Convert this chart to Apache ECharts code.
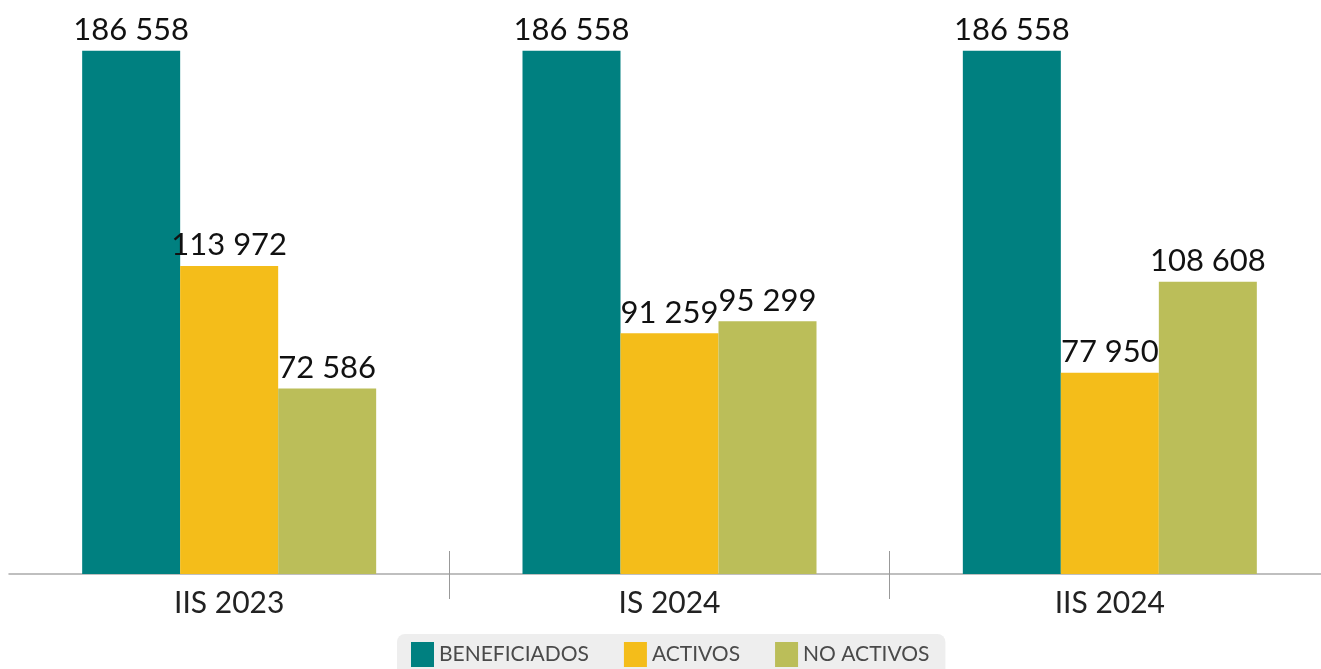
<!DOCTYPE html>
<html>
<head>
<meta charset="utf-8">
<script src="https://cdn.jsdelivr.net/npm/echarts@6/dist/echarts.min.js"></script>
<style>
    html, body { margin: 0; padding: 0; background: #fff; overflow: hidden; }
    #chart { width: 1330px; height: 669px; }
</style>
</head>
<body>
<div id="chart"></div>
<script>
const periods = ['IIS 2023', 'IS 2024', 'IIS 2024'];
const beneficiados = [186558, 186558, 186558];
const activos = [113972, 91259, 77950];
const noActivos = [72586, 95299, 108608];

const seriesNames = ['BENEFICIADOS', 'ACTIVOS', 'NO ACTIVOS'];
const seriesColors = ['#008080', '#F4BD1A', '#BBBE59'];

// número con espacio como separador de miles
function fmt(v) {
    return String(v).replace(/\B(?=(\d{3})+(?!\d))/g, ' ');
}

function makeSeries(name, data, color) {
    return {
        name: name,
        type: 'bar',
        data: data,
        barWidth: 98,
        barGap: 0,
        itemStyle: { color: color },
        label: {
            show: true,
            position: 'top',
            distance: 5,
            color: '#111',
            fontFamily: 'Lato',
            fontSize: 31,
            formatter: function (p) { return fmt(p.value); }
        }
    };
}

const myChart = echarts.init(document.getElementById('chart'));

myChart.setOption({
    animation: false,
    grid: { left: 9, right: 0, top: 11, bottom: 95, containLabel: false },
    legend: {
        bottom: -10,
        left: 397,
        itemWidth: 23,
        itemHeight: 25,
        itemGap: 35,
        icon: 'rect',
        backgroundColor: '#eeeeee',
        borderRadius: 8,
        padding: [8, 16, 12, 14],
        textStyle: { fontFamily: 'Lato', fontSize: 21, color: '#4a4a4a' },
        data: seriesNames
    },
    xAxis: [
        {
            type: 'category',
            data: periods,
            axisLine: { lineStyle: { color: '#aaaaaa', width: 1.5 } },
            axisTick: {
                show: true,
                inside: true,
                length: 23,
                interval: function (index) { return index > 0; },
                lineStyle: { color: '#999999', width: 1 }
            },
            axisLabel: {
                color: '#222',
                fontFamily: 'Lato',
                fontSize: 30,
                margin: 14
            }
        },
        {
            type: 'category',
            data: periods,
            position: 'bottom',
            axisLine: { show: false },
            axisTick: {
                show: true,
                length: 25,
                interval: function (index) { return index > 0; },
                lineStyle: { color: '#999999', width: 1 }
            },
            axisLabel: { show: false }
        }
    ],
    yAxis: {
        type: 'value',
        min: 10000,
        max: 200000,
        show: false,
        splitLine: { show: false }
    },
    series: [
        makeSeries(seriesNames[0], beneficiados, seriesColors[0]),
        makeSeries(seriesNames[1], activos, seriesColors[1]),
        makeSeries(seriesNames[2], noActivos, seriesColors[2])
    ]
});
</script>
</body>
</html>
